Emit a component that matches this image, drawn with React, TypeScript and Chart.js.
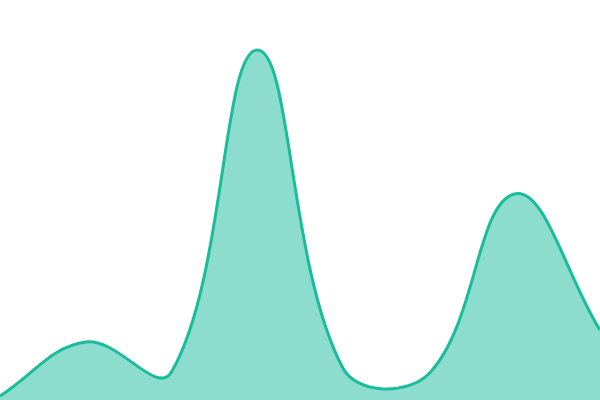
import { useEffect, useRef } from 'react';
import Chart from 'chart.js/auto';

const labels = ['1', '2', '3', '4', '5', '6', '7', '8'];
const values = [1, 14.5, 7, 87.5, 8, 6.5, 51.5, 17.5];

export default function App() {
  const chartRef = useRef<HTMLCanvasElement>(null);
  const chartInstance = useRef<Chart | null>(null);

  useEffect(() => {
    document.body.style.margin = '0';
    if (!chartRef.current) return;
    if (chartInstance.current) chartInstance.current.destroy();

    chartInstance.current = new Chart(chartRef.current, {
      type: 'line',
      data: {
        labels,
        datasets: [{
          data: values,
          borderColor: 'rgb(26, 188, 156)',
          backgroundColor: 'rgba(26, 188, 156, 0.5)',
          borderWidth: 3,
          tension: 0.4,
          fill: true,
          pointRadius: 0,
        }],
      },
      options: {
        animation: false,
        responsive: true,
        maintainAspectRatio: false,
        layout: { padding: 0 },
        plugins: {
          legend: { display: false },
          tooltip: { enabled: false },
        },
        scales: {
          x: { display: false },
          y: { display: false, min: 0, max: 100 },
        },
      },
    });

    return () => {
      if (chartInstance.current) {
        chartInstance.current.destroy();
        chartInstance.current = null;
      }
    };
  }, []);

  return (
    <div style={{ position: 'relative', width: 600, height: 400 }}>
      <canvas ref={chartRef} />
    </div>
  );
}
